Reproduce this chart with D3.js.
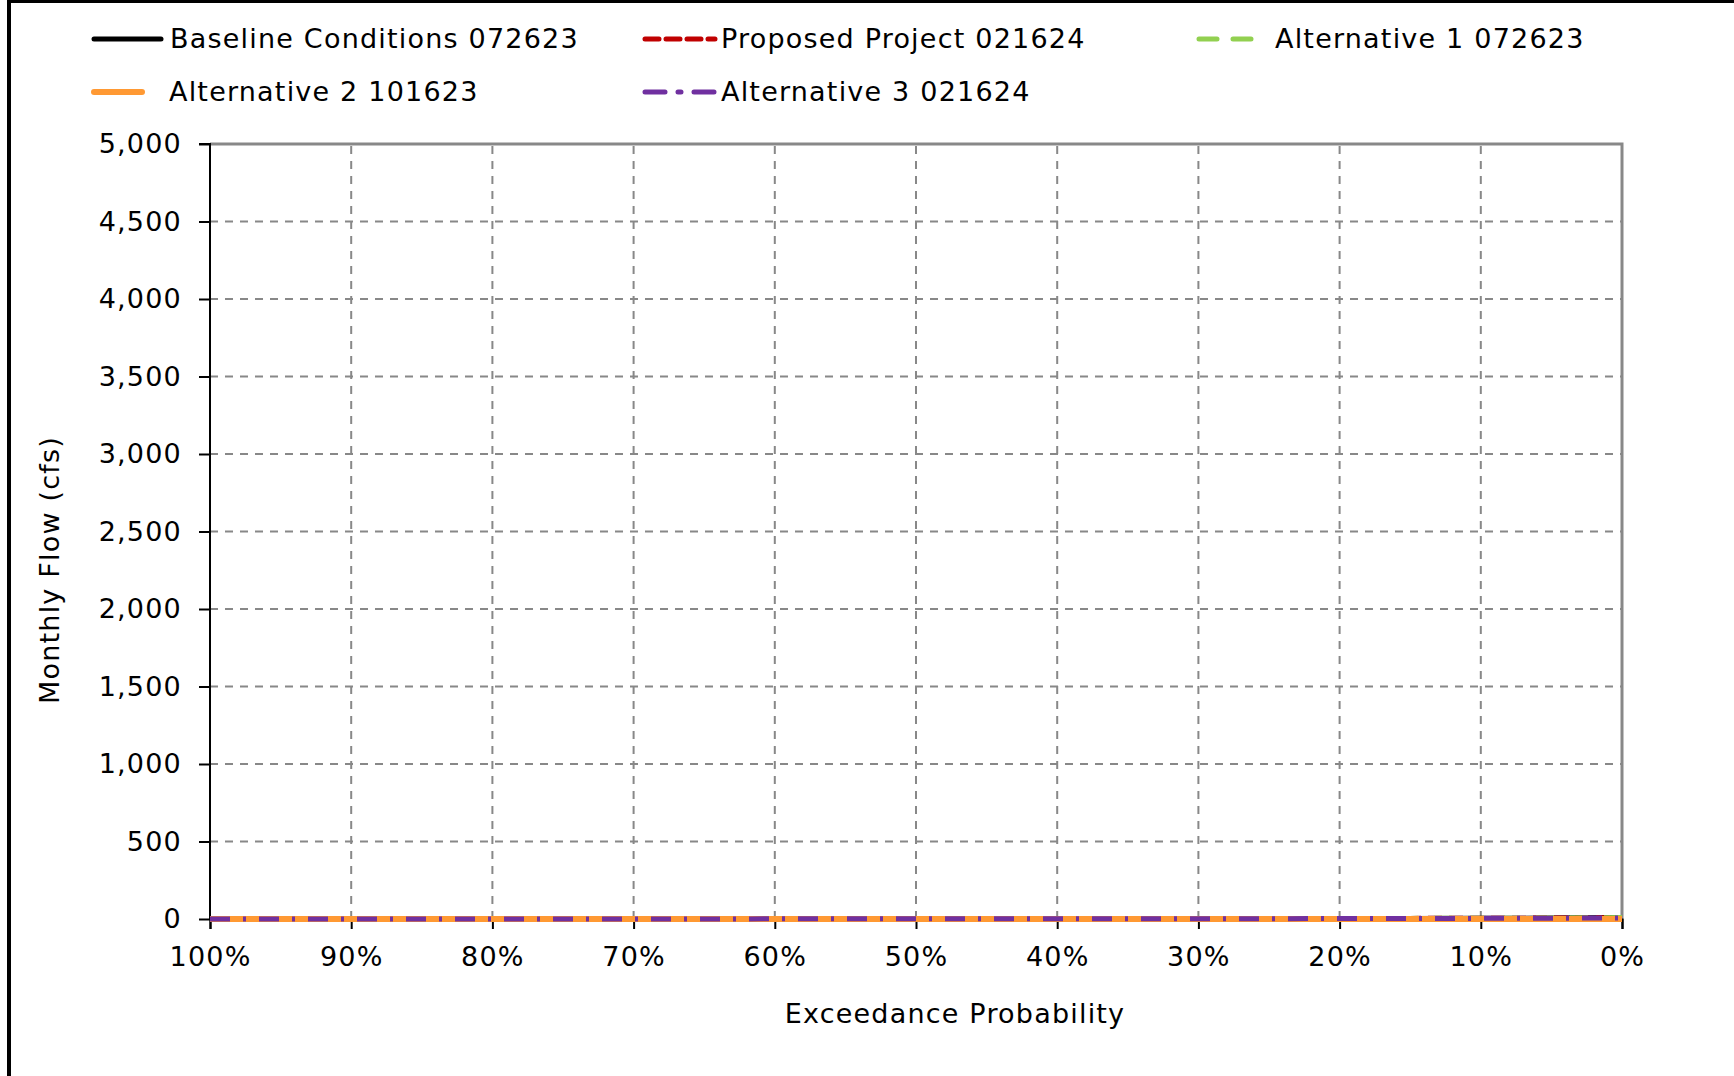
<!DOCTYPE html>
<html lang="en">

<head>
    <meta charset="UTF-8">
    <title>Monthly Flow Exceedance</title>
    <style>
        body { margin: 0; background: #fff; }
        text { font-family: "DejaVu Sans", Verdana, sans-serif; fill: #000; letter-spacing: 1.2px; }
    </style>
</head>

<body>
    <svg id="chart"></svg>

    <script src="https://d3js.org/d3.v7.min.js"></script>
    <script>
        // exceedance probability (%) for each point
        const exceedance = [100, 95, 90, 85, 80, 75, 70, 65, 60, 55, 50, 45, 40, 35, 30, 25, 20, 15, 10, 5, 0]
        // monthly flow (cfs) per scenario - all near zero
        const baseline = [0, 0, 0, 0, 0, 0, 0, 1, 1, 1, 1, 1, 2, 2, 2, 3, 3, 4, 5, 6, 9]
        const proposed = [0, 0, 0, 0, 0, 0, 1, 1, 1, 1, 1, 2, 2, 2, 3, 3, 3, 4, 5, 6, 8]
        const alt1 = [0, 0, 0, 0, 0, 0, 0, 1, 1, 1, 1, 1, 2, 2, 2, 3, 3, 4, 5, 6, 9]
        const alt2 = [0, 0, 0, 0, 0, 0, 0, 0, 0, 0, 0, 0, 0, 0, 0, 0, 0, 0, 0, 0, 0]
        const alt3 = [0, 0, 0, 0, 0, 0, 0, 0, 1, 1, 1, 1, 1, 2, 2, 2, 3, 3, 4, 5, 7]
        const seriesNames = ['Baseline Conditions 072623', 'Proposed Project 021624', 'Alternative 1 072623',
            'Alternative 2 101623', 'Alternative 3 021624']
        const yTicks = [0, 500, 1000, 1500, 2000, 2500, 3000, 3500, 4000, 4500, 5000]
        const xTicks = [100, 90, 80, 70, 60, 50, 40, 30, 20, 10, 0]

        const styles = [
            { color: '#000000', width: 5, dash: null },
            { color: '#c00000', width: 5, dash: '14,7' },
            { color: '#92d050', width: 5, dash: '18,16' },
            { color: '#ff9933', width: 6, dash: null },
            { color: '#7030a0', width: 5, dash: '20,13,3,13' }
        ]

        function render() {
            const W = 1734, H = 1076
            const margin = { top: 144, left: 210, right: 112, bottom: 157 }
            const svg = d3.select('#chart').attr('width', W).attr('height', H)

            // outer frame (cropped, only top and left visible)
            svg.append('rect')
                .attr('x', 9).attr('y', 1)
                .attr('width', 3000).attr('height', 3000)
                .attr('fill', 'none').attr('stroke', '#000').attr('stroke-width', 4)

            const x = d3.scaleLinear().domain([100, 0]).range([margin.left, W - margin.right])
            const y = d3.scaleLinear().domain([0, 5000]).range([H - margin.bottom, margin.top])

            // grid
            svg.append('g').selectAll('line')
                .data(yTicks.filter(d => d > 0 && d < 5000))
                .join('line')
                .attr('x1', x(100)).attr('x2', x(0))
                .attr('y1', d => y(d)).attr('y2', d => y(d))
                .attr('stroke', '#888').attr('stroke-width', 2).attr('stroke-dasharray', '8,7')
            svg.append('g').selectAll('line')
                .data(xTicks.filter(d => d > 0 && d < 100))
                .join('line')
                .attr('x1', d => x(d)).attr('x2', d => x(d))
                .attr('y1', y(0)).attr('y2', y(5000))
                .attr('stroke', '#888').attr('stroke-width', 2).attr('stroke-dasharray', '8,7')

            // top/right border of plot area
            svg.append('path')
                .attr('d', `M${x(100)},${y(5000)}H${x(0)}V${y(0)}`)
                .attr('fill', 'none').attr('stroke', '#888').attr('stroke-width', 3)

            // axes
            const yAxis = d3.axisLeft(y).tickValues(yTicks).tickFormat(d3.format(',')).tickSize(11).tickPadding(17)
            const xAxis = d3.axisBottom(x).tickValues(xTicks).tickFormat(d => d + '%').tickSize(10).tickPadding(18)

            const gy = svg.append('g')
                .attr('transform', `translate(${x(100)},0)`)
                .call(yAxis)
            const gx = svg.append('g')
                .attr('transform', `translate(0,${y(0)})`)
                .call(xAxis)
            for (const g of [gx, gy]) {
                g.select('.domain').attr('stroke', '#000').attr('stroke-width', 2)
                g.selectAll('.tick line').attr('stroke', '#000').attr('stroke-width', 2)
                g.selectAll('.tick text').attr('font-size', 27).attr('font-family', '"DejaVu Sans", Verdana, sans-serif')
            }
            gy.select('.domain').attr('d', `M-11,${y(5000)}H0V${y(0)}`)

            // lines
            const allSeries = [baseline, proposed, alt1, alt2, alt3]
            const line = d3.line()
                .x((d, i) => x(exceedance[i]))
                .y(d => y(d))
            allSeries.forEach((s, i) => {
                svg.append('path')
                    .attr('d', line(s))
                    .attr('fill', 'none')
                    .attr('stroke', styles[i].color)
                    .attr('stroke-width', styles[i].width)
                    .attr('stroke-dasharray', styles[i].dash)
            })

            // axis titles
            svg.append('text')
                .attr('x', 955).attr('y', 1023)
                .attr('text-anchor', 'middle').attr('font-size', 27)
                .text('Exceedance Probability')
            svg.append('text')
                .attr('transform', `translate(59,570) rotate(-90)`)
                .attr('text-anchor', 'middle').attr('font-size', 27)
                .text('Monthly Flow (cfs)')

            // legend
            const legendPos = [
                { lx: 94, ly: 39, len: 67, tx: 170 },
                { lx: 645, ly: 39, len: 70, tx: 721 },
                { lx: 1199, ly: 39, len: 56, tx: 1275 },
                { lx: 94, ly: 92, len: 48, tx: 169 },
                { lx: 645, ly: 92, len: 72, tx: 721 }
            ]
            const lg = svg.append('g')
            seriesNames.forEach((name, i) => {
                const p = legendPos[i]
                lg.append('line')
                    .attr('x1', p.lx).attr('x2', p.lx + p.len)
                    .attr('y1', p.ly).attr('y2', p.ly)
                    .attr('stroke', styles[i].color)
                    .attr('stroke-width', styles[i].width)
                    .attr('stroke-linecap', 'round')
                    .attr('stroke-dasharray', styles[i].dash)
                lg.append('text')
                    .attr('x', p.tx).attr('y', p.ly)
                    .attr('dy', '0.35em').attr('font-size', 27)
                    .text(name)
            })
        }

        render()
    </script>
</body>

</html>
